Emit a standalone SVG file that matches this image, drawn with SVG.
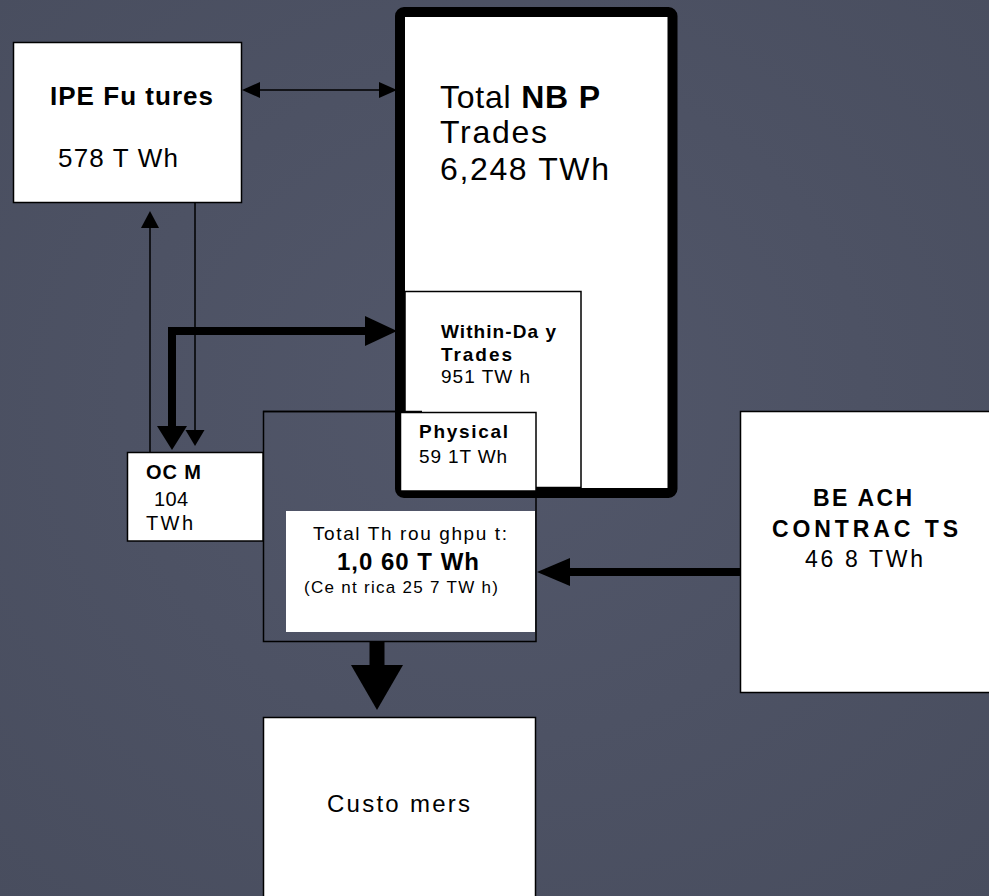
<svg xmlns="http://www.w3.org/2000/svg" width="989" height="896" viewBox="0 0 989 896">
  <style>
    text { font-family: "Liberation Sans", Arial, sans-serif; fill: #000; }
    .b { font-weight: bold; }
    .box { fill: #fff; stroke: #000; stroke-width: 1.5; }
    .thin { stroke: #000; stroke-width: 1.5; fill: none; }
    .thick { stroke: #000; stroke-width: 8; fill: none; }
    .head { fill: #000; stroke: none; }
  </style>
  <defs>
    <radialGradient id="bg" cx="50%" cy="45%" r="75%">
      <stop offset="0" stop-color="#52576a"/>
      <stop offset="1" stop-color="#484d5e"/>
    </radialGradient>
  </defs>
  <rect x="0" y="0" width="989" height="896" fill="url(#bg)"/>

  <!-- Total throughput outline (behind) -->
  <g id="throughput-frame">
    <rect x="263.5" y="411.5" width="272.5" height="230" class="thin"/>
  </g>

  <g id="nbp">
    <rect x="400" y="12" width="272.5" height="481" fill="#fff"/>
    <text x="440" y="108" font-size="32" textLength="160" lengthAdjust="spacing">Total <tspan class="b">NB P</tspan></text>
    <text x="440" y="143" font-size="32" textLength="107" lengthAdjust="spacing">Trades</text>
    <text x="440" y="180" font-size="32" textLength="169" lengthAdjust="spacing">6,248  TWh</text>
  </g>

  <g id="within-day">
    <rect x="405" y="291.5" width="176" height="196" class="box"/>
    <text x="441" y="338" font-size="19" class="b" textLength="115" lengthAdjust="spacing">Within-Da y</text>
    <text x="441" y="361" font-size="19" class="b" textLength="71" lengthAdjust="spacing">Trades</text>
    <text x="441" y="383" font-size="19" textLength="89" lengthAdjust="spacing">951 TW h</text>
  </g>

  <g id="nbp-border">
    <rect x="400" y="12" width="272.5" height="481" rx="4" fill="none" stroke="#000" stroke-width="10"/>
  </g>

  <g id="frame-top">
    <line x1="263" y1="411.5" x2="422" y2="411.5" class="thin"/>
  </g>

  <g id="physical">
    <rect x="400.5" y="412.5" width="135.5" height="78.5" class="box"/>
    <text x="419" y="438" font-size="19" class="b" textLength="89" lengthAdjust="spacing">Physical</text>
    <text x="419" y="463" font-size="19" textLength="88" lengthAdjust="spacing">59 1T Wh</text>
  </g>

  <g id="ipe-futures">
    <rect x="13.5" y="42.5" width="228" height="160" class="box"/>
    <text x="50" y="105" font-size="26" class="b" textLength="163" lengthAdjust="spacing">IPE Fu tures</text>
    <text x="58" y="167" font-size="26" textLength="120" lengthAdjust="spacing">578 T Wh</text>
  </g>

  <g id="ocm">
    <rect x="127.5" y="452.5" width="135.5" height="88.5" class="box"/>
    <text x="146" y="479" font-size="20" class="b" textLength="55" lengthAdjust="spacing">OC M</text>
    <text x="154" y="506" font-size="20" textLength="34" lengthAdjust="spacing">104</text>
    <text x="146" y="530" font-size="20" textLength="47" lengthAdjust="spacing">TWh</text>
  </g>

  <g id="throughput">
    <rect x="286" y="511" width="249" height="121" fill="#fff"/>
    <text x="313" y="540" font-size="19" textLength="194" lengthAdjust="spacing">Total Th rou ghpu t:</text>
    <text x="337" y="570" font-size="24" class="b" textLength="142" lengthAdjust="spacing">1,0 60 T Wh</text>
    <text x="304" y="593" font-size="17" textLength="194" lengthAdjust="spacing">(Ce nt rica 25 7 TW h)</text>
  </g>

  <g id="beach-contracts">
    <rect x="740.5" y="411.5" width="260" height="281" class="box"/>
    <text x="813" y="506" font-size="23" class="b" textLength="99" lengthAdjust="spacing">BE ACH</text>
    <text x="772" y="537" font-size="23" class="b" textLength="186" lengthAdjust="spacing">CONTRAC TS</text>
    <text x="805" y="567" font-size="23" textLength="118" lengthAdjust="spacing">46 8 TWh</text>
  </g>

  <g id="customers">
    <rect x="263.5" y="717.5" width="272" height="190" class="box"/>
    <text x="327" y="812" font-size="24" textLength="143" lengthAdjust="spacing">Custo mers</text>
  </g>

  <g id="connectors">
    <!-- IPE <-> NBP -->
    <line x1="258" y1="90" x2="381" y2="90" class="thin"/>
    <polygon points="242,90 260,82 260,98" class="head"/>
    <polygon points="397,90 379,82 379,98" class="head"/>
    <!-- OCM -> IPE -->
    <line x1="150" y1="452" x2="150" y2="226" class="thin"/>
    <polygon points="150,211 141,228 159,228" class="head"/>
    <!-- IPE -> OCM -->
    <line x1="195" y1="203" x2="195" y2="432" class="thin"/>
    <polygon points="195,446 185.5,430 204.5,430" class="head"/>
    <!-- thick two-way OCM <-> Within-Day -->
    <path d="M172,428 V331 H367" class="thick"/>
    <polygon points="397,331 365,316 365,346" class="head"/>
    <polygon points="172,450 157,426 187,426" class="head"/>
    <!-- Beach -> Throughput -->
    <line x1="740" y1="572" x2="568" y2="572" class="thick"/>
    <polygon points="537,572 570,558 570,586" class="head"/>
    <!-- Throughput -> Customers -->
    <line x1="377" y1="641" x2="377" y2="667" stroke="#000" stroke-width="15"/>
    <polygon points="377,710 351,665 403,665" class="head"/>
  </g>
</svg>
